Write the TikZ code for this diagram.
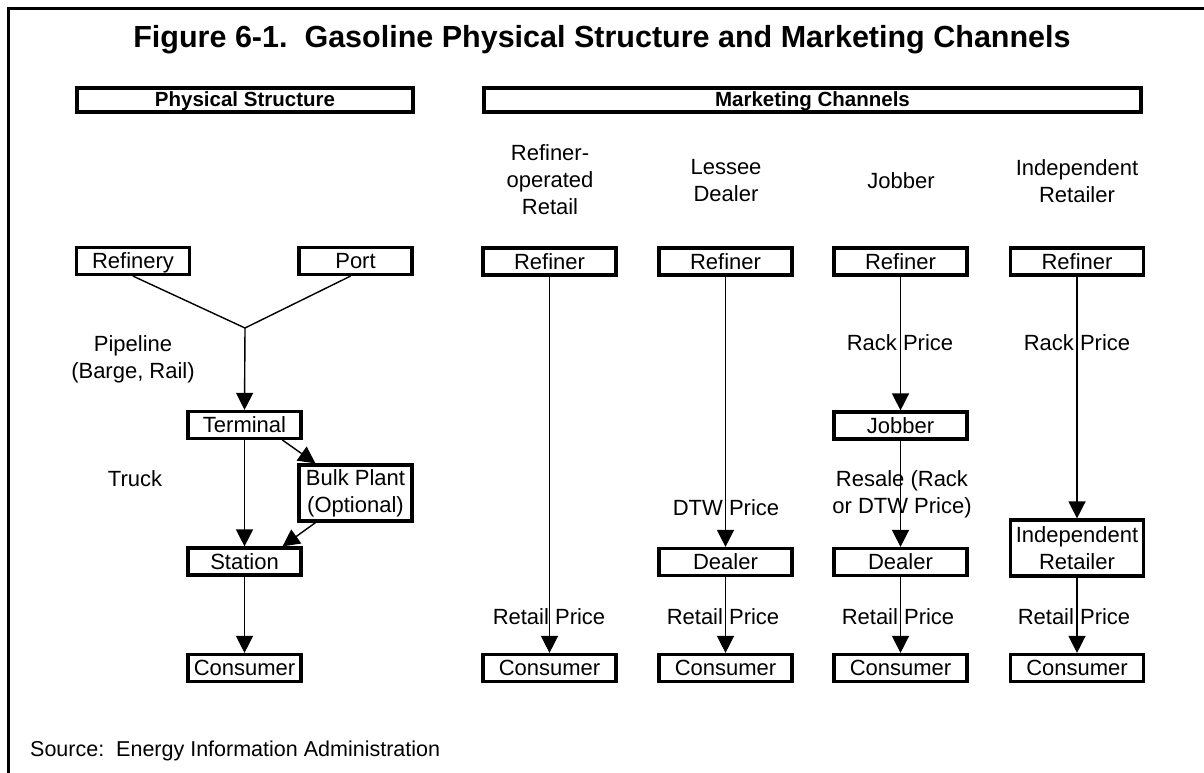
\documentclass[tikz,border=0pt]{standalone}
\usepackage{fontspec}
\setmainfont{Liberation Sans}
\usetikzlibrary{arrows.meta}
\begin{document}
\begin{tikzpicture}[x=1pt,y=-1pt,
  box/.style={draw, line width=3.2pt, inner sep=0pt, minimum width=113pt, minimum height=27pt, font=\fontsize{22}{27}\selectfont, align=center},
  sbox/.style={box, text height=17pt, text depth=2pt},
  mbox/.style={sbox, minimum width=133pt},
  lbl/.style={font=\fontsize{22}{27}\selectfont, align=center, inner sep=0pt},
  conn/.style={line width=1.4pt},
  arr/.style={conn, -{Triangle[width=17pt,length=17pt]}},
  hdr/.style={draw, line width=3.2pt, inner sep=0pt, minimum height=24pt, text height=15pt, text depth=2pt, font=\bfseries\fontsize{20.5}{24}\selectfont}]
\useasboundingbox (0,0) rectangle (1204,773);
% frame
\draw[line width=3pt] (1204,9) -- (8,9) -- (8,773);
% title
\node[font=\bfseries\fontsize{30.5}{34}\selectfont, inner sep=0pt] (title) at (602,40) {Figure 6-1.\ \ Gasoline Physical Structure and Marketing Channels};
% headers
\node[hdr, minimum width=336pt] (hphys) at (245,100) {Physical Structure};
\node[hdr, minimum width=657pt] (hmkt) at (812.5,100) {Marketing Channels};

% physical structure
\node[sbox] (refinery) at (133,261) {Refinery};
\node[sbox] (port) at (355.5,261) {Port};
\coordinate (J) at (245,328);
\node[sbox] (terminal) at (244.5,425) {Terminal};
\node[box, minimum height=56pt] (bulk) at (355.5,493) {Bulk Plant\\(Optional)};
\node[sbox] (station) at (244.5,561.5) {Station};
\node[sbox] (consumer0) at (244.5,668) {Consumer};
\node[lbl] (pipe) at (133,359) {Pipeline\\(Barge, Rail)};
\node[lbl] (truck) at (135,479) {Truck};

\draw[conn] (refinery.south) -- (J);
\draw[conn] ([xshift=-5pt]port.south) -- (J);
\draw[arr] (J) -- (terminal.north);
\draw[arr] (terminal.south) -- (station.north);
\draw[arr] ([xshift=38pt]terminal.south) -- ([xshift=-40pt]bulk.north);
\draw[arr] ([xshift=-40pt]bulk.south) -- ([xshift=38pt]station.north);
\draw[arr] (station.south) -- (consumer0.north);

% marketing channel headings
\node[lbl] (h1) at (550,180) {Refiner-\\operated\\Retail};
\node[lbl] (h2) at (726,181) {Lessee\\Dealer};
\node[lbl] (h3) at (901,181) {Jobber};
\node[lbl] (h4) at (1077,181) {Independent\\Retailer};

% column 1
\node[mbox] (ref1) at (549.5,261.5) {Refiner};
\node[mbox] (con1) at (549.5,668) {Consumer};
\draw[arr] (ref1.south) -- (con1.north);
\node[lbl] (rp1) at (549,617) {Retail Price};

% column 2
\node[mbox] (ref2) at (725.5,261.5) {Refiner};
\node[mbox] (dea2) at (725.5,562) {Dealer};
\node[mbox] (con2) at (725.5,668) {Consumer};
\draw[arr] (ref2.south) -- (dea2.north);
\draw[arr] (dea2.south) -- (con2.north);
\node[lbl] (dtw2) at (726,508) {DTW Price};
\node[lbl] (rp2) at (723,617) {Retail Price};

% column 3
\node[mbox] (ref3) at (900.5,261.5) {Refiner};
\node[mbox] (job3) at (900.5,425.5) {Jobber};
\node[mbox] (dea3) at (900.5,562) {Dealer};
\node[mbox] (con3) at (900.5,668) {Consumer};
\draw[arr] (ref3.south) -- (job3.north);
\draw[arr] (job3.south) -- (dea3.north);
\draw[arr] (dea3.south) -- (con3.north);
\node[lbl] (rack3) at (900,343) {Rack Price};
\node[lbl] (resale3) at (902,494) {Resale (Rack\\or DTW Price)};
\node[lbl] (rp3) at (898,617) {Retail Price};

% column 4
\node[mbox] (ref4) at (1077,261.5) {Refiner};
\node[box, minimum width=133pt, minimum height=56pt] (ind4) at (1077,548) {Independent\\Retailer};
\node[mbox] (con4) at (1077,668) {Consumer};
\draw[arr] (ref4.south) -- (ind4.north);
\draw[arr] (ind4.south) -- (con4.north);
\node[lbl] (rack4) at (1077,343) {Rack Price};
\node[lbl] (rp4) at (1074,617) {Retail Price};

% source
\node[anchor=west, inner sep=0pt, font=\fontsize{21.5}{25}\selectfont] (src) at (30,751) {Source:\ \ Energy Information Administration};
\end{tikzpicture}
\end{document}
